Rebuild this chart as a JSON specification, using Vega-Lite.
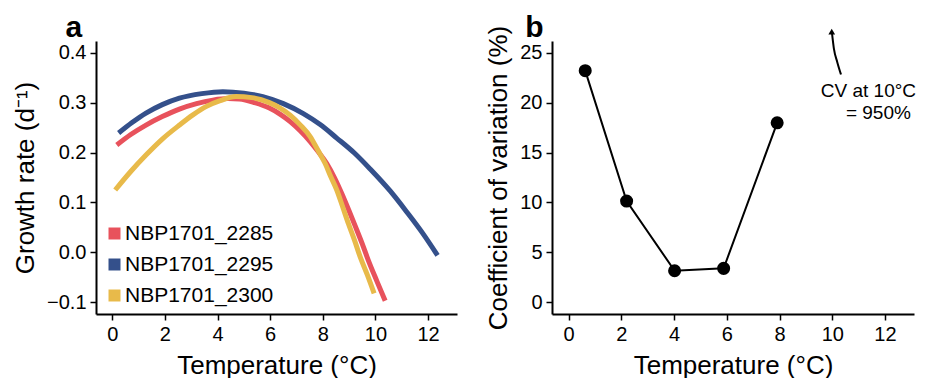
{
  "$schema": "https://vega.github.io/schema/vega-lite/v6.json",
  "padding": {"left": 12, "top": 12, "right": 5, "bottom": 0},
  "background": "white",
  "config": {
    "font": "Liberation Sans",
    "view": {"stroke": null},
    "axis": {
      "domainColor": "black", "domainWidth": 2, "tickColor": "black", "tickWidth": 1.5, "tickSize": 6,
      "labelFontSize": 20, "labelColor": "black", "labelPadding": 4, "titleFontSize": 26, "titleFontWeight": "normal",
      "titleColor": "black", "grid": false
    }
  },
  "spacing": 28,
  "hconcat": [
    {
      "width": 361, "height": 273,
      "layer": [
        {
          "data": {"values": [
            {"strain": "NBP1701_2285", "temp": 0.17, "rate": 0.215},
            {"strain": "NBP1701_2285", "temp": 0.7, "rate": 0.236},
            {"strain": "NBP1701_2285", "temp": 1.28, "rate": 0.255},
            {"strain": "NBP1701_2285", "temp": 1.9, "rate": 0.272},
            {"strain": "NBP1701_2285", "temp": 2.55, "rate": 0.287},
            {"strain": "NBP1701_2285", "temp": 3.2, "rate": 0.298},
            {"strain": "NBP1701_2285", "temp": 3.82, "rate": 0.305},
            {"strain": "NBP1701_2285", "temp": 4.4, "rate": 0.308},
            {"strain": "NBP1701_2285", "temp": 4.83, "rate": 0.307},
            {"strain": "NBP1701_2285", "temp": 5.4, "rate": 0.3},
            {"strain": "NBP1701_2285", "temp": 5.97, "rate": 0.289},
            {"strain": "NBP1701_2285", "temp": 6.4, "rate": 0.276},
            {"strain": "NBP1701_2285", "temp": 6.76, "rate": 0.262},
            {"strain": "NBP1701_2285", "temp": 7.15, "rate": 0.243},
            {"strain": "NBP1701_2285", "temp": 7.52, "rate": 0.222},
            {"strain": "NBP1701_2285", "temp": 7.85, "rate": 0.2},
            {"strain": "NBP1701_2285", "temp": 8.15, "rate": 0.178},
            {"strain": "NBP1701_2285", "temp": 8.45, "rate": 0.149},
            {"strain": "NBP1701_2285", "temp": 8.72, "rate": 0.118},
            {"strain": "NBP1701_2285", "temp": 9.0, "rate": 0.083},
            {"strain": "NBP1701_2285", "temp": 9.23, "rate": 0.053},
            {"strain": "NBP1701_2285", "temp": 9.5, "rate": 0.017},
            {"strain": "NBP1701_2285", "temp": 9.73, "rate": -0.016},
            {"strain": "NBP1701_2285", "temp": 10.05, "rate": -0.057},
            {"strain": "NBP1701_2285", "temp": 10.37, "rate": -0.097},
            {"strain": "NBP1701_2295", "temp": 0.24, "rate": 0.239},
            {"strain": "NBP1701_2295", "temp": 0.75, "rate": 0.26},
            {"strain": "NBP1701_2295", "temp": 1.28, "rate": 0.279},
            {"strain": "NBP1701_2295", "temp": 1.9, "rate": 0.296},
            {"strain": "NBP1701_2295", "temp": 2.55, "rate": 0.309},
            {"strain": "NBP1701_2295", "temp": 3.4, "rate": 0.318},
            {"strain": "NBP1701_2295", "temp": 4.2, "rate": 0.322},
            {"strain": "NBP1701_2295", "temp": 5.0, "rate": 0.319},
            {"strain": "NBP1701_2295", "temp": 5.72, "rate": 0.312},
            {"strain": "NBP1701_2295", "temp": 6.5, "rate": 0.298},
            {"strain": "NBP1701_2295", "temp": 7.26, "rate": 0.278},
            {"strain": "NBP1701_2295", "temp": 7.9, "rate": 0.256},
            {"strain": "NBP1701_2295", "temp": 8.53, "rate": 0.229},
            {"strain": "NBP1701_2295", "temp": 9.2, "rate": 0.199},
            {"strain": "NBP1701_2295", "temp": 9.8, "rate": 0.167},
            {"strain": "NBP1701_2295", "temp": 10.56, "rate": 0.123},
            {"strain": "NBP1701_2295", "temp": 11.19, "rate": 0.081},
            {"strain": "NBP1701_2295", "temp": 11.8, "rate": 0.038},
            {"strain": "NBP1701_2295", "temp": 12.36, "rate": -0.006},
            {"strain": "NBP1701_2300", "temp": 0.11, "rate": 0.125},
            {"strain": "NBP1701_2300", "temp": 0.7, "rate": 0.162},
            {"strain": "NBP1701_2300", "temp": 1.28, "rate": 0.195},
            {"strain": "NBP1701_2300", "temp": 1.9, "rate": 0.227},
            {"strain": "NBP1701_2300", "temp": 2.55, "rate": 0.255},
            {"strain": "NBP1701_2300", "temp": 3.05, "rate": 0.275},
            {"strain": "NBP1701_2300", "temp": 3.56, "rate": 0.292},
            {"strain": "NBP1701_2300", "temp": 4.1, "rate": 0.304},
            {"strain": "NBP1701_2300", "temp": 4.7, "rate": 0.312},
            {"strain": "NBP1701_2300", "temp": 5.3, "rate": 0.31},
            {"strain": "NBP1701_2300", "temp": 5.97, "rate": 0.3},
            {"strain": "NBP1701_2300", "temp": 6.35, "rate": 0.29},
            {"strain": "NBP1701_2300", "temp": 6.76, "rate": 0.275},
            {"strain": "NBP1701_2300", "temp": 7.15, "rate": 0.255},
            {"strain": "NBP1701_2300", "temp": 7.52, "rate": 0.232},
            {"strain": "NBP1701_2300", "temp": 7.8, "rate": 0.206},
            {"strain": "NBP1701_2300", "temp": 8.09, "rate": 0.178},
            {"strain": "NBP1701_2300", "temp": 8.3, "rate": 0.152},
            {"strain": "NBP1701_2300", "temp": 8.53, "rate": 0.125},
            {"strain": "NBP1701_2300", "temp": 8.75, "rate": 0.092},
            {"strain": "NBP1701_2300", "temp": 8.97, "rate": 0.058},
            {"strain": "NBP1701_2300", "temp": 9.2, "rate": 0.025},
            {"strain": "NBP1701_2300", "temp": 9.42, "rate": -0.009},
            {"strain": "NBP1701_2300", "temp": 9.7, "rate": -0.046},
            {"strain": "NBP1701_2300", "temp": 9.95, "rate": -0.082}
          ]},
          "mark": {"type": "line", "strokeWidth": 5, "interpolate": "monotone"},
          "encoding": {
            "x": {"field": "temp", "type": "quantitative",
              "scale": {"domain": [-0.62, 13.1], "nice": false, "zero": false},
              "axis": {"values": [0, 2, 4, 6, 8, 10, 12], "title": "Temperature (°C)", "titlePadding": 8}},
            "y": {"field": "rate", "type": "quantitative",
              "scale": {"domain": [-0.1234, 0.4234], "nice": false, "zero": false},
              "axis": {"values": [-0.1, 0, 0.1, 0.2, 0.3, 0.4], "format": ".1f", "title": "Growth rate (d⁻¹)", "titlePadding": 8}},
            "color": {"field": "strain", "type": "nominal",
              "scale": {"domain": ["NBP1701_2285", "NBP1701_2295", "NBP1701_2300"], "range": ["#E8525C", "#34508B", "#E8BA4A"]},
              "legend": {"orient": "none", "legendX": 8, "legendY": 182, "title": null, "symbolType": "square", "symbolSize": 36,
                "symbolStrokeWidth": 6, "labelFontSize": 21, "labelColor": "black", "rowPadding": 0, "labelOffset": 0, "padding": 0}}
          }
        },
        {
          "data": {"values": [{"temp": -1.46, "rate": 0.4314, "label": "a"}]},
          "mark": {"type": "text", "fontSize": 30, "fontWeight": "bold", "color": "black", "align": "center", "baseline": "alphabetic"},
          "encoding": {
            "x": {"field": "temp", "type": "quantitative"},
            "y": {"field": "rate", "type": "quantitative"},
            "text": {"field": "label"}
          }
        }
      ]
    },
    {
      "width": 362, "height": 273,
      "layer": [
        {
          "data": {"values": [
            {"temp": 0.63, "cv": 23.2},
            {"temp": 2.2, "cv": 10.14},
            {"temp": 4.02, "cv": 3.16},
            {"temp": 5.88, "cv": 3.4},
            {"temp": 7.91, "cv": 17.98}
          ]},
          "layer": [
            {"mark": {"type": "line", "color": "black", "strokeWidth": 2}, "encoding": {
              "x": {"field": "temp", "type": "quantitative",
                "scale": {"domain": [-0.63, 13.1], "nice": false, "zero": false},
                "axis": {"values": [0, 2, 4, 6, 8, 10, 12], "title": "Temperature (°C)", "titlePadding": 8}},
              "y": {"field": "cv", "type": "quantitative",
                "scale": {"domain": [-1.17, 26.17], "nice": false, "zero": false},
                "axis": {"values": [0, 5, 10, 15, 20, 25], "title": "Coefficient of variation (%)", "titlePadding": 8}}
            }},
            {"mark": {"type": "point", "filled": true, "color": "black", "size": 170, "opacity": 1}, "encoding": {
              "x": {"field": "temp", "type": "quantitative"},
              "y": {"field": "cv", "type": "quantitative"}
            }}
          ]
        },
        {
          "data": {"values": [
            {"temp": 9.99, "cv": 26.95},
            {"temp": 10.06, "cv": 25.43},
            {"temp": 10.19, "cv": 24.05},
            {"temp": 10.33, "cv": 22.82}
          ]},
          "mark": {"type": "line", "color": "black", "strokeWidth": 2, "interpolate": "monotone", "clip": false},
          "encoding": {
            "x": {"field": "temp", "type": "quantitative"},
            "y": {"field": "cv", "type": "quantitative"}
          }
        },
        {
          "data": {"values": [{"temp": 9.98, "cv": 27.1}]},
          "mark": {"type": "point", "shape": "triangle-up", "filled": true, "color": "black", "size": 45, "opacity": 1, "clip": false},
          "encoding": {
            "x": {"field": "temp", "type": "quantitative"},
            "y": {"field": "cv", "type": "quantitative"}
          }
        },
        {
          "data": {"values": [
            {"temp": 11.37, "cv": 21.17, "label": "CV at 10°C"},
            {"temp": 11.75, "cv": 18.92, "label": "= 950%"}
          ]},
          "mark": {"type": "text", "fontSize": 19, "color": "black", "align": "center", "baseline": "middle"},
          "encoding": {
            "x": {"field": "temp", "type": "quantitative"},
            "y": {"field": "cv", "type": "quantitative"},
            "text": {"field": "label"}
          }
        },
        {
          "data": {"values": [{"temp": -1.3, "cv": 26.59, "label": "b"}]},
          "mark": {"type": "text", "fontSize": 30, "fontWeight": "bold", "color": "black", "align": "center", "baseline": "alphabetic"},
          "encoding": {
            "x": {"field": "temp", "type": "quantitative"},
            "y": {"field": "cv", "type": "quantitative"},
            "text": {"field": "label"}
          }
        }
      ]
    }
  ]
}
